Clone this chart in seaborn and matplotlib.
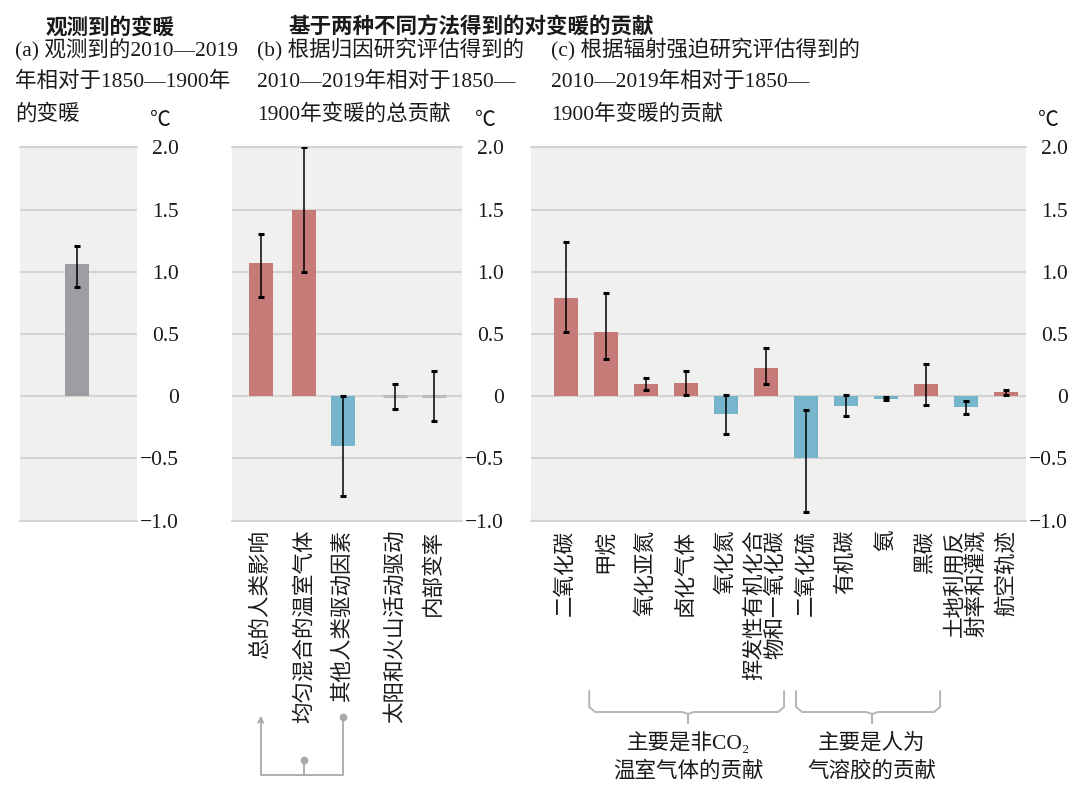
import matplotlib
matplotlib.use("Agg")
import matplotlib.pyplot as plt
import matplotlib.transforms as mtransforms
import seaborn as sns
import numpy as np
import pandas as pd

# ---- data ----
obs_labels = ['观测到的变暖']
obs_values = [1.06]
obs_lo = [0.88]
obs_hi = [1.21]

attr_labels = ['总的人类影响', '均匀混合的温室气体', '其他人类驱动因素',
               '太阳和火山活动驱动', '内部变率']
attr_values = [1.07, 1.50, -0.40, 0.00, 0.00]
attr_lo = [0.80, 1.00, -0.80, -0.10, -0.20]
attr_hi = [1.30, 2.00, 0.00, 0.10, 0.20]

forc_labels = ['二氧化碳', '甲烷', '氧化亚氮', '卤化气体', '氧化氮',
               '挥发性有机化合\n物和一氧化碳', '二氧化硫', '有机碳', '氨', '黑碳',
               '土地利用反\n射率和灌溉', '航空轨迹']
forc_values = [0.79, 0.52, 0.10, 0.11, -0.14, 0.23, -0.50, -0.08, -0.02, 0.10, -0.09, 0.03]
forc_lo = [0.52, 0.30, 0.05, 0.01, -0.30, 0.10, -0.93, -0.16, -0.03, -0.07, -0.14, 0.01]
forc_hi = [1.24, 0.83, 0.15, 0.20, 0.01, 0.39, -0.11, 0.01, -0.01, 0.26, -0.04, 0.05]

yticks = [-1.0, -0.5, 0.0, 0.5, 1.0, 1.5, 2.0]
ytick_labels = ['−1.0', '−0.5', '0', '0.5', '1.0', '1.5', '2.0']

# layout (bar slots along x)
obs_pos = [0.0]
attr_pos = [0.0, 1.09, 2.05, 3.36, 4.32]
forc_pos = list(range(len(forc_labels)))

RED = '#c77b78'
BLUE = '#76b5cc'
GREY = '#9d9ea2'
BG = '#f0f0ee'
GRID = '#d3d3d3'
TXT = '#1a1a1a'

sns.set_style('white')
plt.rcParams['font.family'] = ['Liberation Serif', 'Noto Sans CJK SC', 'DejaVu Sans']
plt.rcParams['axes.unicode_minus'] = True

W, H = 1080, 794
fig = plt.figure(figsize=(W / 100, H / 100), dpi=100)


def px_axes(x0, x1, ytop=147.3, ybot=520.7):
    return fig.add_axes([x0 / W, 1 - ybot / H, (x1 - x0) / W, (ybot - ytop) / H])


def frame(df, kind):
    df = df.copy()
    if kind == 'obs':
        df['kind'] = 'obs'
    else:
        df['kind'] = np.where(df['value'] > 0, 'pos', np.where(df['value'] < 0, 'neg', 'zero'))
    return df


palette = {'obs': GREY, 'pos': RED, 'neg': BLUE, 'zero': '#c4c4c4'}


def draw_panel(ax, labels, pos, values, lo, hi, kind, width, xlim, show_labels=True):
    df = pd.DataFrame({'label': labels, 'pos': pos, 'value': values, 'lo': lo, 'hi': hi})
    df = frame(df, kind)
    ax.set_facecolor(BG)
    sns.barplot(data=df, x='pos', y='value', hue='kind', palette=palette,
                native_scale=True, dodge=False, width=width, legend=False,
                saturation=1, linewidth=0, ax=ax)
    zero = df[df['kind'] == 'zero']
    if len(zero):
        ax.hlines(zero['value'], zero['pos'] - 0.3, zero['pos'] + 0.3,
                  color='#bdbdbd', lw=2.2, zorder=3)
    ax.errorbar(df['pos'], df['value'],
                yerr=[df['value'] - df['lo'], df['hi'] - df['value']],
                fmt='none', ecolor='black', elinewidth=1.1, capsize=2.4,
                capthick=2.2, zorder=4)
    ax.set_xlim(*xlim)
    ax.set_ylim(-1.0, 2.0)
    for s in ax.spines.values():
        s.set_visible(False)
    ax.set_axisbelow(True)
    ax.grid(axis='y', color=GRID, lw=1.5)
    ax.grid(axis='x', visible=False)
    for y in (-1.0, 2.0):
        ax.axhline(y, color=GRID, lw=1.5, clip_on=False, zorder=0.5)
    ax.yaxis.tick_right()
    ax.set_yticks(yticks, ytick_labels)
    ax.tick_params(axis='y', length=0, pad=30.2, labelsize=15.5, labelcolor=TXT)
    for t in ax.get_yticklabels():
        t.set_ha('right')
    ax.set_xticks(df['pos'], list(df['label']) if show_labels else [''] * len(df))
    ax.tick_params(axis='x', direction='inout', length=9, width=1.2,
                   color='#c8c8c8', pad=2, labelsize=15.5, labelcolor=TXT)
    for t in ax.get_xticklabels():
        t.set_rotation(90)
        t.set_va('top')
        t.set_ha('center')
        t.set_multialignment('right')
        t.set_linespacing(1.05)
    ax.set_xlabel('')
    ax.set_ylabel('')


ax_a = px_axes(20, 137)
ax_b = px_axes(232, 462)
ax_c = px_axes(531, 1025.7)

draw_panel(ax_a, obs_labels, obs_pos, obs_values, obs_lo, obs_hi, 'obs',
           0.6, (-1.43, 1.49), show_labels=False)
draw_panel(ax_b, attr_labels, attr_pos, attr_values, attr_lo, attr_hi, 'attr',
           0.6 / 0.96, (-0.72, 5.03))
draw_panel(ax_c, forc_labels, forc_pos, forc_values, forc_lo, forc_hi, 'forc',
           0.6, (-0.875, 11.49))


def ftext(x, y, s, **kw):
    fig.text(x / W, 1 - y / H, s, color=TXT, **kw)


# headers
ftext(46, 27, '观测到的变暖', fontsize=15.5, fontweight='bold', va='center',
      family=['Noto Sans CJK SC'])
ftext(288, 27, '基于两种不同方法得到的对变暖的贡献', fontsize=15.5, fontweight='bold',
      va='center', family=['Noto Sans CJK SC'])

panel_text = {
    15: ['(a) 观测到的2010—2019', '年相对于1850—1900年', '的变暖'],
    257: ['(b) 根据归因研究评估得到的', '2010—2019年相对于1850—', '1900年变暖的总贡献'],
    551: ['(c) 根据辐射强迫研究评估得到的', '2010—2019年相对于1850—', '1900年变暖的贡献'],
}
for x, lines in panel_text.items():
    for y, line in zip((49, 82, 114), lines):
        ftext(x, y, line, fontsize=15.5, va='center')

# unit labels
for right in (137, 462, 1025.7):
    ftext(right + 23, 122, '℃', fontsize=15, va='center', ha='center')

# panel (b) connector under the labels
LINE = '#a9a9a9'
tb = mtransforms.blended_transform_factory(ax_b.transData, fig.transFigure)


def fy(y):
    return 1 - y / H


xb0, xb1, xb2 = attr_pos[0], attr_pos[1], attr_pos[2]
ax_b.plot([xb0, xb0, xb2, xb2], [fy(718), fy(775), fy(775), fy(717)],
          color=LINE, lw=1.3, transform=tb, clip_on=False)
ax_b.plot([xb1, xb1], [fy(775), fy(760)], color=LINE, lw=1.3, transform=tb, clip_on=False)
ax_b.plot([xb2, xb1], [fy(717), fy(760)], 'o', color=LINE, ms=4.5, transform=tb, clip_on=False)
ax_b.annotate('', xy=(xb0, fy(713)), xytext=(xb0, fy(724)), xycoords=tb, textcoords=tb,
              arrowprops=dict(arrowstyle='->', color=LINE, lw=1.3, mutation_scale=9),
              annotation_clip=False)

# panel (c) group brackets
tc = mtransforms.blended_transform_factory(ax_c.transData, fig.transFigure)
groups = [
    (0.58, 5.45, 3.05, ['主要是非CO₂', '温室气体的贡献']),
    (5.75, 9.35, 7.65, ['主要是人为', '气溶胶的贡献']),
]
r = 0.15
for xl, xr, xc, lines in groups:
    xs = [xl, xl, xl + r, xc - r, xc, xc, xc, xc + r, xr - r, xr, xr]
    ys = [691, 707, 712, 712, 714, 723, 714, 712, 712, 707, 691]
    ax_c.plot(xs, [fy(v) for v in ys], color='#b5b5b5', lw=1.4, transform=tc,
              clip_on=False, solid_joinstyle='round')
    for y, line in zip((743, 771), lines):
        ax_c.text(xc, fy(y), line, transform=tc, ha='center', va='center',
                  fontsize=15.5, color=TXT, clip_on=False)

fig.savefig('out.png', dpi=100, facecolor='white')
